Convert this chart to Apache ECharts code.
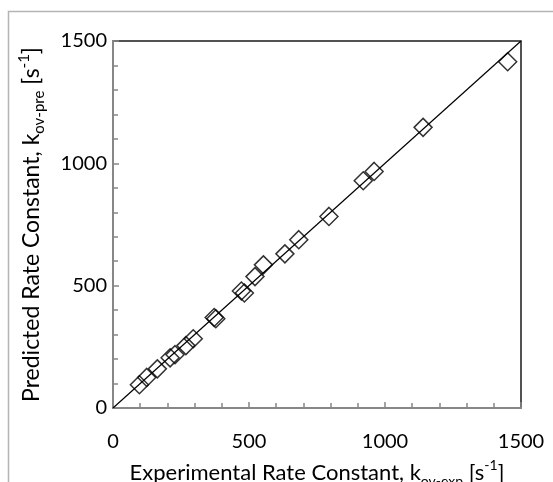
<!DOCTYPE html>
<html>
<head>
<meta charset="utf-8">
<script src="https://cdn.jsdelivr.net/npm/echarts@6/dist/echarts.min.js"></script>
<style>
html,body{margin:0;padding:0;background:#fff;}
#chart{width:553px;height:482px;}
</style>
</head>
<body>
<div id="chart"></div>
<script>
// Experimental vs predicted rate constants [s^-1]
const expValues = [97, 124, 163, 210, 228, 268, 295, 372, 378, 472, 483, 522, 553, 632, 683, 794, 920, 960, 1140, 1451];
const preValues = [95, 125, 160, 205, 218, 255, 283, 370, 365, 478, 470, 537, 585, 630, 688, 783, 929, 967, 1147, 1415];
// 1:1 reference line
const parityX = [0, 1500];
const parityY = [0, 1500];
const xTicks = [0, 500, 1000, 1500];
const yTicks = [0, 500, 1000, 1500];

const FONT = 'Lato';
const chart = echarts.init(document.getElementById('chart'), null, {renderer: 'canvas'});

function makeRich(size, subSize) {
  return {
    n: {fontSize: size, fontFamily: FONT, color: '#000', lineHeight: 30, verticalAlign: 'middle'},
    sub: {fontSize: subSize, fontFamily: FONT, color: '#000', lineHeight: 14, verticalAlign: 'bottom'},
    sup: {fontSize: subSize, fontFamily: FONT, color: '#000', lineHeight: 14, verticalAlign: 'top'}
  };
}

function axisCommon(ticks) {
  return {
    type: 'value',
    min: ticks[0],
    max: ticks[ticks.length - 1],
    interval: ticks[1] - ticks[0],
    axisLine: {show: true, lineStyle: {color: '#878787', width: 2}},
    axisTick: {show: true, inside: true, length: 6, lineStyle: {color: '#878787', width: 1.5}},
    minorTick: {show: true, splitNumber: 5, length: 5, lineStyle: {color: '#878787', width: 1.5}},
    splitLine: {show: false},
    minorSplitLine: {show: false},
    nameLocation: 'middle'
  };
}
const plainNum = v => String(v);

const option = {
  backgroundColor: '#fff',
  animation: false,
  grid: {
    left: 113, top: 41, right: 32, bottom: 74,
    containLabel: false,
    outerBoundsMode: 'none',
    show: true, borderColor: '#1a1a1a', borderWidth: 1.5, backgroundColor: 'transparent'
  },
  xAxis: Object.assign(axisCommon(xTicks), {
    name: '{n|Experimental Rate Constant, k}{sub|ov-exp}{n| [s}{sup|-1}{n|]}',
    nameGap: 50,
    nameTextStyle: {rich: makeRich(22, 14)},
    axisLabel: {fontSize: 20, fontFamily: FONT, color: '#000', margin: 24, formatter: plainNum}
  }),
  yAxis: Object.assign(axisCommon(yTicks), {
    name: '{n|Predicted Rate Constant, k}{sub|ov-pre}{n| [s}{sup|-1}{n|]}',
    nameGap: 66,
    nameRotate: 90,
    nameTextStyle: {rich: makeRich(23, 15)},
    axisLabel: {fontSize: 20, fontFamily: FONT, color: '#000', margin: 6, formatter: plainNum}
  }),
  graphic: [{
    type: 'polyline',
    shape: {points: [[8.5, 482], [8.5, 11.5], [553, 11.5]]},
    style: {stroke: '#b4b4b4', lineWidth: 1.5, fill: null},
    silent: true
  }],
  series: [
    {
      type: 'line',
      data: parityX.map((x, i) => [x, parityY[i]]),
      showSymbol: false,
      lineStyle: {color: '#000', width: 1.2},
      z: 2
    },
    {
      type: 'scatter',
      data: expValues.map((x, i) => [x, preValues[i]]),
      symbol: 'diamond',
      symbolSize: 18,
      itemStyle: {color: 'rgba(0,0,0,0)', borderColor: '#000', borderWidth: 1.5},
      z: 3
    }
  ]
};
chart.setOption(option);
</script>
</body>
</html>
